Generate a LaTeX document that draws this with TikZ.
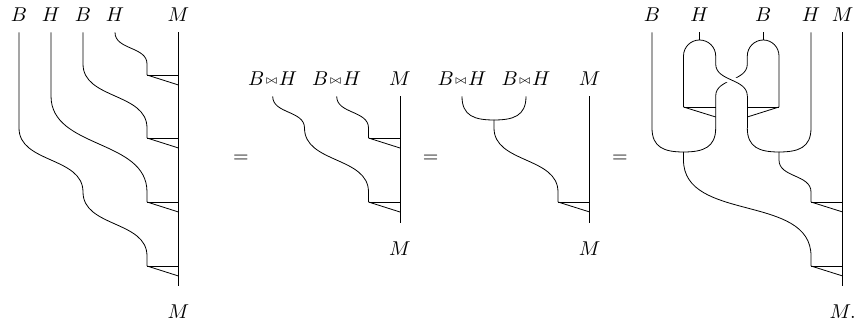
\documentclass[tikz,border=0pt]{standalone}
\usepackage{amsmath}
\usepackage{amssymb}
\tikzstyle{point}=[inner sep=0pt, minimum size=0pt]
\tikzstyle{wave}=[out=-90, in=90]
\tikzstyle{cupl}=[out=-90, in=180, looseness=1.25]
\tikzstyle{cupr}=[out=-90, in=0, looseness=1.25]
\tikzstyle{capl}=[out=90, in=180]
\tikzstyle{capr}=[out=90, in=0]
\tikzstyle{over}=[preaction={draw, white, line width=4pt}]
\tikzstyle{tagbelow}=[label distance=9.2pt]
\tikzset{every label/.style={inner sep=0pt, label distance=4.7pt}}
\newcommand{\BH}{\(B\!\mathbin{\raisebox{0.9pt}{\(\scriptscriptstyle\bowtie\)}}\!H\)}

\begin{document}
\begin{tikzpicture}[x=0.5pt, y=-0.5pt]
        \useasboundingbox (0, 0) rectangle (857, 325);
        \node[point, label=above:\(B\)]                  (B1) at (19, 32) {};
        \node[point, label=above:\(H\)]                  (H1) at (51, 32) {};
        \node[point, label=above:\(B\)]                  (B2) at (83, 32) {};
        \node[point, label=above:\(H\)]                  (H2) at (115, 32) {};
        \node[point, label=above:\(M\)]                  (M1) at (178.5, 32) {};
        \node[point, label={[tagbelow]below:\(M\)}]      (M1end) at (178.5, 286) {};
        \coordinate (A1) at (147, 75);
        \coordinate (A2) at (147, 138);
        \coordinate (A3) at (147, 202);
        \coordinate (A4) at (147, 266);
        \draw (M1) -- (M1end);
        \draw (H2) to[wave] (147, 64) -- (A1);
        \draw (B2) -- (83, 64) to[wave] (147, 128) -- (A2);
        \draw (H1) -- (51, 96) to[wave] (147, 192) -- (A3);
        \draw (B1) -- (19, 128) to[wave] (83, 192) to[wave] (147, 256) -- (A4);
        \draw (A1) -- +(31.5, 0);
        \draw (A1) -- +(31.5, 10);
        \draw (A2) -- +(31.5, 0);
        \draw (A2) -- +(31.5, 10);
        \draw (A3) -- +(31.5, 0);
        \draw (A3) -- +(31.5, 10);
        \draw (A4) -- +(31.5, 0);
        \draw (A4) -- +(31.5, 10);

        \node (eq1) at (241, 159) {\(=\)};

        \node[point, label=above:\BH]                    (BH1) at (272.7, 96) {};
        \node[point, label=above:\BH]                    (BH2) at (336.7, 96) {};
        \node[point, label=above:\(M\)]                  (M2) at (400, 96) {};
        \node[point, label={[tagbelow]below:\(M\)}]      (M2end) at (400, 223) {};
        \coordinate (A5) at (368.5, 138);
        \coordinate (A6) at (368.5, 202);
        \draw (M2) -- (M2end);
        \draw (BH2) to[wave] (368.5, 128) -- (A5);
        \draw (BH1) to[wave] (304.5, 128) to[wave] (368.5, 192) -- (A6);
        \draw (A5) -- +(31.5, 0);
        \draw (A5) -- +(31.5, 10);
        \draw (A6) -- +(31.5, 0);
        \draw (A6) -- +(31.5, 10);

        \node (eq2) at (430.7, 159) {\(=\)};

        \node[point, label=above:\BH]                    (BH3) at (462, 96) {};
        \node[point, label=above:\BH]                    (BH4) at (526, 96) {};
        \node[point, label=above:\(M\)]                  (M3) at (589.7, 96) {};
        \node[point, label={[tagbelow]below:\(M\)}]      (M3end) at (589.7, 223) {};
        \coordinate (C1) at (494, 120);
        \coordinate (A7) at (558, 202);
        \draw (M3) -- (M3end);
        \draw (BH3) to[cupl] (C1);
        \draw (BH4) to[cupr] (C1);
        \draw (C1) -- (494, 128) to[wave] (558, 192) -- (A7);
        \draw (A7) -- +(31.7, 0);
        \draw (A7) -- +(31.7, 10);

        \node (eq3) at (620, 159) {\(=\)};

        \node[point, label=above:\(B\)]                  (B3) at (652, 32) {};
        \node[point, label=above:\(H\)]                  (H3) at (699.5, 32) {};
        \node[point, label=above:\(B\)]                  (B4) at (763.3, 32) {};
        \node[point, label=above:\(H\)]                  (H4) at (811, 32) {};
        \node[point, label=above:\(M\)]                  (M4) at (842.7, 32) {};
        \node[point, label={[tagbelow]below:\(M.\)}]     (M4end) at (842.7, 286) {};
        \coordinate (D1) at (699.5, 40);
        \coordinate (D2) at (763.3, 40);
        \coordinate (L1) at (683.5, 107);
        \coordinate (L2) at (779, 107);
        \coordinate (C2) at (683.5, 152);
        \coordinate (C3) at (779, 152);
        \coordinate (A8) at (811, 202);
        \coordinate (A9) at (811, 266);
        \draw (M4) -- (M4end);
        \draw (H3) -- (D1);
        \draw (B4) -- (D2);
        \draw (L1) -- (683.5, 56) to[capl] (D1);
        \draw (L2) -- (779, 56) to[capr] (D2);
        \draw (715.7, 64) -- (715.7, 56) to[capr] (D1);
        \draw (747.3, 64) -- (747.3, 56) to[capl] (D2);
        \draw (747.3, 64) to[wave] (715.7, 96) -- (715.7, 128);
        \draw[over] (715.7, 64) to[wave] (747.3, 96);
        \draw (747.3, 96) -- (747.3, 128);
        \draw (L1) -- (715.7, 107);
        \draw (L1) -- (715.7, 117);
        \draw (L2) -- (747.3, 107);
        \draw (L2) -- (747.3, 117);
        \draw (B3) -- (652, 128) to[cupl] (C2);
        \draw (715.7, 128) to[cupr] (C2);
        \draw (747.3, 128) to[cupl] (C3);
        \draw (H4) -- (811, 128) to[cupr] (C3);
        \draw (C3) -- (779, 160) to[wave] (811, 192) -- (A8);
        \draw (C2) -- (683.5, 160) to[wave] (811, 256) -- (A9);
        \draw (A8) -- +(31.7, 0);
        \draw (A8) -- +(31.7, 10);
        \draw (A9) -- +(31.7, 0);
        \draw (A9) -- +(31.7, 10);
    \end{tikzpicture}
\end{document}
